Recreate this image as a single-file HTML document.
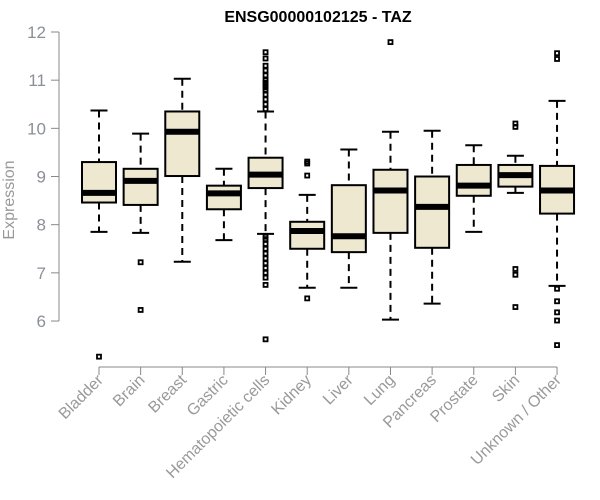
<!DOCTYPE html>
<html><head><meta charset="utf-8"><style>
body{margin:0;background:#fff}
svg{display:block;font-family:"Liberation Sans",Arial,sans-serif}
</style></head><body>
<svg id="chart" width="600" height="500"></svg>
<script>
const categories=["Bladder","Brain","Breast","Gastric","Hematopoietic cells","Kidney","Liver","Lung","Pancreas","Prostate","Skin","Unknown / Other"];
const lowerWhisker=[7.85,7.83,7.23,7.68,7.81,6.69,6.69,6.03,6.36,7.85,8.66,6.73];
const q1=[8.46,8.41,9.01,8.32,8.76,7.50,7.43,7.83,7.52,8.60,8.79,8.23];
const medians=[8.66,8.91,9.93,8.65,9.04,7.87,7.76,8.71,8.37,8.81,9.03,8.71];
const q3=[9.30,9.16,10.35,8.81,9.39,8.06,8.82,9.14,9.00,9.24,9.24,9.22];
const upperWhisker=[10.37,9.89,11.03,9.16,10.35,8.62,9.56,9.93,9.95,9.65,9.43,10.57];
const outliers=[[5.26],[7.22,6.23],[],[],
 [11.58,11.45,11.3,11.2,11.1,11.0,10.95,10.9,10.85,10.8,10.7,10.6,10.5,10.4,7.75,7.7,7.6,7.5,7.4,7.3,7.2,7.1,7.0,6.9,6.75,5.62],
 [9.31,9.27,9.02,6.47],[],[11.79],[],[],[10.10,10.03,7.08,6.96,6.29],[11.56,11.44,6.67,6.41,6.18,6.01,5.50]];
const yTicks=[6,7,8,9,10,11,12];

const NS="http://www.w3.org/2000/svg";
const svg=document.getElementById('chart');
const yS=v=>32+(12-v)*48.17;
const xS=i=>99+i*41.64;
function mk(t,a,p){const e=document.createElementNS(NS,t);for(const k in a)e.setAttribute(k,a[k]);(p||svg).appendChild(e);return e;}

const title=mk('text',{x:318,y:22,'text-anchor':'middle','font-size':16,'font-weight':'bold',fill:'#000'});
title.textContent="ENSG00000102125 - TAZ";



const yl=mk('text',{x:0,y:0,'text-anchor':'middle','font-size':16,fill:'#999',transform:'translate(14,200) rotate(-90)'});
yl.textContent="Expression";



const ya=mk('g',{});


mk('line',{x1:59,x2:59,y1:yS(12),y2:yS(6),stroke:'#888'},ya);
yTicks.forEach(t=>{
  mk('line',{x1:51,x2:59,y1:yS(t),y2:yS(t),stroke:'#888'},ya);
  const tx=mk('text',{x:46,y:yS(t)+6,'text-anchor':'end','font-size':17,fill:'#8a8f99'},ya);
  tx.textContent=t;
  
  
});

const xa=mk('g',{});


mk('line',{x1:xS(0),x2:xS(categories.length-1),y1:367,y2:367,stroke:'#888'},xa);
categories.forEach((c,i)=>{
  mk('line',{x1:xS(i),x2:xS(i),y1:367,y2:375,stroke:'#888'},xa);
  const tx=mk('text',{x:0,y:0,'text-anchor':'end','font-size':16,fill:'#999',transform:`translate(${xS(i)+5},${381}) rotate(-45)`},xa);
  tx.textContent=c;
  
  
});

categories.forEach((c,i)=>{
  const g=mk('g',{});
  
  
  const x=xS(i),hw=17,cw=8.5;
  mk('line',{x1:x,x2:x,y1:yS(upperWhisker[i]),y2:yS(q3[i]),stroke:'#000','stroke-width':2,'stroke-dasharray':'7,5'},g);
  mk('line',{x1:x,x2:x,y1:yS(q1[i]),y2:yS(lowerWhisker[i]),stroke:'#000','stroke-width':2,'stroke-dasharray':'7,5'},g);
  mk('line',{x1:x-cw,x2:x+cw,y1:yS(upperWhisker[i]),y2:yS(upperWhisker[i]),stroke:'#000','stroke-width':2},g);
  mk('line',{x1:x-cw,x2:x+cw,y1:yS(lowerWhisker[i]),y2:yS(lowerWhisker[i]),stroke:'#000','stroke-width':2},g);
  mk('rect',{x:x-hw,y:yS(q3[i]),width:2*hw,height:yS(q1[i])-yS(q3[i]),fill:'#EDE8CF',stroke:'#000','stroke-width':2},g);
  mk('line',{x1:x-hw,x2:x+hw,y1:yS(medians[i]),y2:yS(medians[i]),stroke:'#000','stroke-width':6},g);
  outliers[i].forEach(v=>{
    const o=mk('rect',{x:x-2,y:yS(v)-2,width:4,height:4,fill:'none',stroke:'#000','stroke-width':1.8},g);
    
    
  });
});
</script>
</body></html>
